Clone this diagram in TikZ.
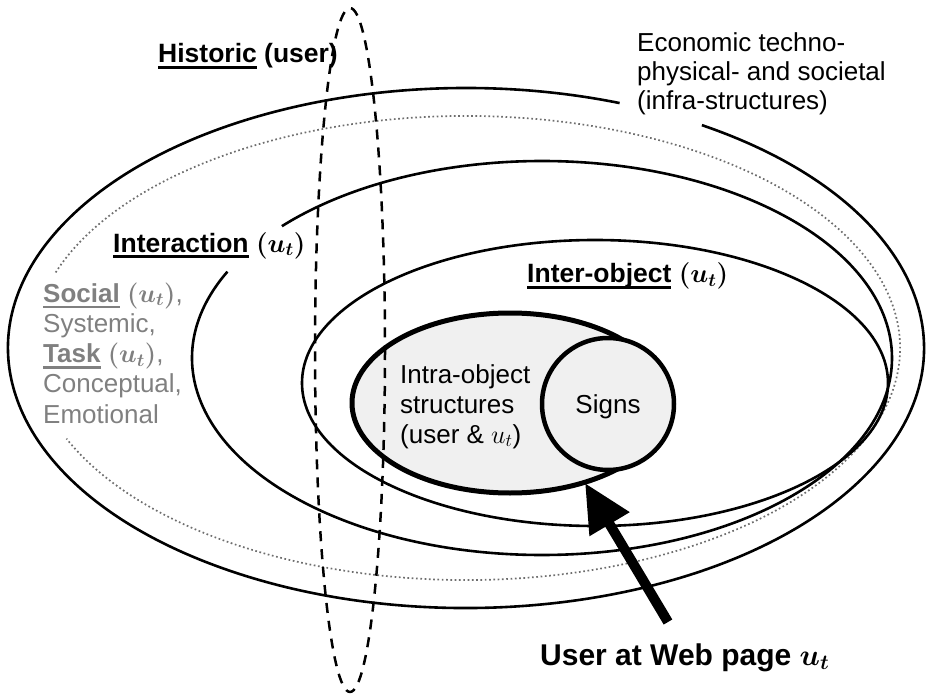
\documentclass[tikz,border=0pt]{standalone}
\usepackage{fix-cm}
\usepackage{fontspec}
\setmainfont{Liberation Sans}
\usetikzlibrary{arrows.meta}
\definecolor{txtgray}{RGB}{128,128,128}
\definecolor{fillgray}{RGB}{240,240,240}
\definecolor{dotgray}{RGB}{110,110,110}
\newcommand\myul[1]{\setbox0=\hbox{#1}\rlap{\rule[-6pt]{\wd0}{2.5pt}}\box0\relax}
\newcommand\but{{\boldmath$(u_t)$}}
\begin{document}
\begin{tikzpicture}[x=1pt,y=-1pt,line join=round,
  ring/.style={line width=2.6pt},
  dotring/.style={line width=1.7pt,dotgray,dash pattern=on 1.7pt off 2.6pt},
  thickring/.style={line width=5pt,fill=fillgray},
  histring/.style={line width=2.5pt,dash pattern=on 10pt off 8pt},
  lbl/.style={font=\fontsize{26}{30}\selectfont,inner sep=0pt,anchor=base west},
  blbl/.style={font=\fontsize{26.5}{30}\selectfont\bfseries,inner sep=0pt,anchor=base west},
  bigarrow/.style={line width=10pt,-{Triangle[length=48pt,width=44pt]}}]
\useasboundingbox (0,0) rectangle (930,698);
% outer ellipse (economic), with a gap for its label
\draw[ring] (466,348) ++(301:458 and 260) arc[start angle=301,end angle=649.6,x radius=458,y radius=260];
% dotted ellipse (social ...)
\draw[dotring] (466,348) ++(199:434 and 232) arc[start angle=199,end angle=517,x radius=434,y radius=232];
% interaction ellipse, with a gap for its label
\draw[ring] (542,358) ++(222:350 and 197) arc[start angle=222,end angle=566,x radius=350,y radius=197];
% inter-object ellipse
\draw[ring] (595,383) ellipse[x radius=293,y radius=143];
% intra-object ellipse and signs circle
\draw[thickring] (510,403) ellipse[x radius=158,y radius=90];
\draw[thickring,line width=4.5pt] (608,404) circle[radius=66];
% historic dashed ellipse
\draw[histring] (350,350) ellipse[x radius=35,y radius=342];
% labels
\node[blbl] (historic) at (158,63) {\myul{Historic} (user)};
\node[lbl] (economic) at (637,52) {\fontsize{26}{29}\selectfont\begin{tabular}[t]{@{}l@{}}Economic techno-\\physical- and societal\\(infra-structures)\end{tabular}};
\node[blbl] (interaction) at (113,252) {\myul{Interaction} \but};
\node[lbl,text=txtgray] (social) at (43,302) {\fontsize{26}{30.3}\selectfont\begin{tabular}[t]{@{}l@{}}\myul{\textbf{Social}} \but,\\Systemic,\\\myul{\textbf{Task}} \but,\\Conceptual,\\Emotional\end{tabular}};
\node[blbl] (interobj) at (527,283) {\myul{Inter-object} \but};
\node[lbl] (intra) at (400,383) {\fontsize{26}{30}\selectfont\begin{tabular}[t]{@{}l@{}}Intra-object\\structures\\(user \& $u_t$)\end{tabular}};
\node[lbl,anchor=base] (signs) at (608,413) {Signs};
\node[blbl,font=\fontsize{30}{34}\selectfont\bfseries] (user) at (540,665) {User at Web page {\boldmath$u_t$}};
% arrow
\coordinate (tail) at (668,622);
\coordinate (tip) at (585,483);
\draw[bigarrow] (tail) -- (tip);
\end{tikzpicture}
\end{document}
